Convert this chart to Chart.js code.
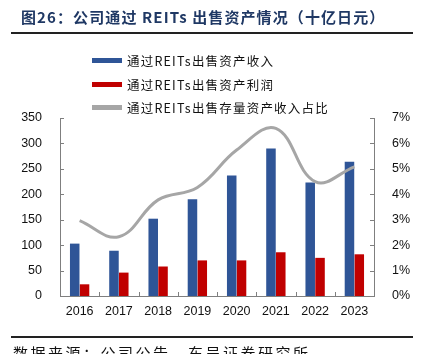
<!DOCTYPE html>
<html>
<head>
<meta charset="utf-8">
<script src="https://cdn.jsdelivr.net/npm/chart.js@4/dist/chart.umd.min.js"></script>
<style>
  html, body { margin: 0; padding: 0; background: #fff; overflow: hidden; }
  #wrap { position: relative; width: 422px; height: 354px; }
  #chart { position: absolute; left: 0; top: 0; }
  .title {
    position: absolute; left: 21px; top: 6px;
    font: bold 15px "Noto Sans CJK SC", sans-serif; color: #1F3864;
    letter-spacing: 1.1px; white-space: nowrap;
  }
  .rule { position: absolute; left: 11px; width: 402px; height: 2px; background: #222; }
  #legend { position: absolute; left: 92px; top: 49px; }
  .item { height: 23.5px; display: flex; align-items: center; white-space: nowrap;
    font: 12.5px "Noto Sans CJK SC", sans-serif; letter-spacing: 1.2px; color: #111; }
  .swatch { width: 30px; height: 5px; margin-right: 5px; }
  .source {
    position: absolute; left: 13px; top: 342px;
    font: 15px "Noto Sans CJK SC", sans-serif; letter-spacing: 2.5px; color: #111;
    white-space: nowrap;
  }
</style>
</head>
<body>
<div id="wrap">
  <canvas id="chart" width="422" height="354"></canvas>
  <div class="title">图26：公司通过 REITs 出售资产情况（十亿日元）</div>
  <div class="rule" style="top:32px"></div>
  <div id="legend"></div>
  <div class="rule" style="top:336px"></div>
  <div class="source">数据来源：公司公告，东吴证券研究所</div>
</div>
<script>
const years = ['2016', '2017', '2018', '2019', '2020', '2021', '2022', '2023'];
const revenue = [103, 89, 152, 190, 237, 290, 223, 264];
const profit = [23, 46, 58, 70, 70, 86, 75, 82];
const share = [2.96, 2.33, 3.78, 4.27, 5.74, 6.59, 4.5, 5.08];

const seriesNames = ['通过REITs出售资产收入', '通过REITs出售资产利润', '通过REITs出售存量资产收入占比'];
const colors = ['#2F5597', '#C00000', '#A6A6A6'];

// small inward tick marks on the axes
const inwardTicks = {
  id: 'inwardTicks',
  afterDraw(chart) {
    const ctx = chart.ctx;
    const a = chart.chartArea;
    ctx.save();
    ctx.strokeStyle = '#7F7F7F';
    ctx.lineWidth = 1;
    ctx.beginPath();
    chart.scales.y.ticks.forEach(t => {
      const py = Math.round(chart.scales.y.getPixelForValue(t.value)) + 0.5;
      ctx.moveTo(a.left, py); ctx.lineTo(a.left + 4, py);
    });
    chart.scales.y1.ticks.forEach(t => {
      const py = Math.round(chart.scales.y1.getPixelForValue(t.value)) + 0.5;
      ctx.moveTo(a.right, py); ctx.lineTo(a.right - 4, py);
    });
    const x = chart.scales.x;
    for (let i = 1; i < years.length; i++) {
      const px = Math.round((x.getPixelForValue(i - 1) + x.getPixelForValue(i)) / 2) + 0.5;
      ctx.moveTo(px, a.bottom); ctx.lineTo(px, a.bottom - 4);
    }
    ctx.stroke();
    ctx.restore();
  }
};

const chart = new Chart(document.getElementById('chart'), {
  data: {
    labels: years,
    datasets: [{
      type: 'line',
      label: seriesNames[2],
      data: share,
      yAxisID: 'y1',
      borderColor: colors[2],
      borderWidth: 3,
      pointRadius: 0,
      tension: 0.4,
      order: 0
    }, {
      type: 'bar',
      label: seriesNames[0],
      data: revenue,
      yAxisID: 'y',
      backgroundColor: colors[0],
      categoryPercentage: 0.5,
      barPercentage: 0.97,
      order: 1
    }, {
      type: 'bar',
      label: seriesNames[1],
      data: profit,
      yAxisID: 'y',
      backgroundColor: colors[1],
      categoryPercentage: 0.5,
      barPercentage: 0.97,
      order: 1
    }]
  },
  options: {
    responsive: false,
    animation: false,
    layout: { padding: { top: 118, left: 0, right: 0, bottom: 0 } },
    plugins: { legend: { display: false }, tooltip: { enabled: false } },
    scales: {
      x: {
        grid: { display: false, drawTicks: false },
        border: { color: '#7F7F7F', width: 1 },
        ticks: { color: '#111', font: { family: 'Liberation Sans', size: 12.5 }, padding: 8 },
        afterFit: s => { s.height = 58; }
      },
      y: {
        position: 'left',
        min: 0, max: 350,
        grid: { display: false },
        border: { color: '#7F7F7F', width: 1 },
        ticks: { stepSize: 50, color: '#111', font: { family: 'Liberation Sans', size: 12.5 }, padding: 10 },
        afterFit: s => { s.width = 60; }
      },
      y1: {
        position: 'right',
        min: 0, max: 7,
        grid: { display: false },
        border: { color: '#7F7F7F', width: 1 },
        ticks: { stepSize: 1, color: '#111', font: { family: 'Liberation Sans', size: 12.5 }, padding: 10,
          callback: v => v + '%' },
        afterFit: s => { s.width = 48; }
      }
    }
  },
  plugins: [inwardTicks]
});

// legend rows in the same order as the reference
const legend = document.getElementById('legend');
[0, 1, 2].forEach(i => {
  const row = document.createElement('div');
  row.className = 'item';
  row.innerHTML = '<span class="swatch" style="background:' + colors[i] + '"></span>' + seriesNames[i];
  legend.appendChild(row);
});
</script>
</body>
</html>
